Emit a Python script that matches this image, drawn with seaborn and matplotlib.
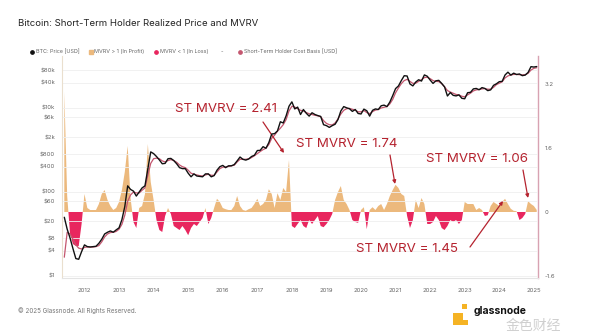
import numpy as np
import pandas as pd
import matplotlib
matplotlib.use("Agg")
import matplotlib.pyplot as plt
import seaborn as sns
from matplotlib.lines import Line2D
from matplotlib.patches import Rectangle

sns.set_style("white")
plt.rcParams['font.family'] = ['Inter', 'DejaVu Sans', 'Noto Sans CJK SC']

# ---------------- data (monthly, first of month) ----------------
months = pd.date_range("2011-06-01", "2025-02-01", freq="MS")

price = [
    25, 13, 8, 4.5, 2.6, 2.5, 3.8,                                        # 2011 Jun-Dec
    5.5, 5, 4.9, 5, 5.1, 6, 7.5, 10, 11, 11.8, 11, 12.5,                  # 2012
    14, 22, 45, 140, 115, 105, 80, 100, 125, 140, 350, 900,               # 2013
    820, 700, 580, 470, 480, 620, 630, 560, 470, 380, 360, 360,           # 2014
    280, 230, 270, 240, 235, 230, 270, 270, 230, 245, 330, 400,           # 2015
    430, 380, 420, 420, 450, 550, 680, 600, 575, 610, 700, 750,           # 2016
    970, 980, 1200, 1100, 1500, 2400, 2450, 2850, 4700, 4400, 6500, 11000,  # 2017
    14000, 9500, 10500, 7000, 9200, 7500, 6400, 7700, 7000, 6600, 6300, 4000,  # 2018
    3800, 3450, 3800, 4100, 5300, 8500, 10800, 10100, 9600, 8300, 9200, 7400,  # 2019
    7200, 9400, 8600, 6400, 8800, 9500, 9200, 11300, 11700, 10800, 13800, 19700,  # 2020
    29000, 33500, 45000, 58700, 57800, 37300, 33600, 41500, 47100, 43800, 61300, 57000,  # 2021
    46300, 38500, 44400, 45500, 38500, 31800, 19300, 23300, 20000, 19400, 20500, 17000,  # 2022
    16600, 23100, 23600, 28500, 29200, 27200, 30600, 29200, 25900, 27000, 34600, 37700,  # 2023
    42300, 43100, 61100, 71300, 60600, 67500, 62700, 64600, 58900, 60800, 70200, 96400,  # 2024
    94400, 97000,                                                          # 2025
]

sth_cost_basis = [
    2.8, 11, 10, 7.5, 5.5, 4.6, 4.4,
    4.8, 4.9, 4.9, 4.9, 5.0, 5.3, 6.5, 8.5, 10, 10.8, 11, 11.5,
    13, 17, 28, 60, 85, 100, 95, 95, 110, 125, 250, 480,
    620, 640, 620, 550, 520, 560, 590, 560, 510, 440, 400, 380,
    330, 280, 265, 255, 245, 240, 255, 265, 250, 250, 300, 360,
    390, 395, 405, 420, 435, 520, 600, 600, 600, 615, 660, 730,
    820, 920, 1020, 1100, 1350, 1900, 2250, 2800, 3300, 4000, 5300, 8500,
    11000, 10500, 9600, 8800, 8500, 7800, 7300, 7000, 6700, 6500, 6200, 5000,
    4300, 4000, 3950, 4400, 5500, 7200, 8800, 9600, 9800, 9300, 8900, 8100,
    8100, 8700, 7800, 7300, 8200, 8900, 9200, 10000, 10400, 10800, 12500, 16000,
    23000, 30000, 38000, 45000, 48000, 43000, 38500, 39000, 43000, 47000, 53000, 54000,
    50000, 45000, 43000, 42500, 38000, 32000, 26000, 24000, 22500, 21000, 20500, 19000,
    18500, 20500, 22500, 25500, 27000, 27500, 28500, 29000, 28000, 28000, 31000, 36000,
    39000, 42000, 52000, 58000, 61000, 63000, 63000, 62000, 61500, 62000, 67000, 80000,
    88000, 91000,
]

mvrv_minus_1 = [
    3.0, 0.4, -0.55, -0.8, -0.85, -0.85, -0.3,
    0.45, 0.1, 0.05, 0.05, 0.05, 0.2, 0.45, 0.55, 0.3, 0.15, 0.05, 0.1,
    0.25, 0.55, 1.0, 1.65, 0.35, -0.25, -0.4, 0.1, 0.15, 0.45, 1.7, 0.75,
    0.3, -0.2, -0.45, -0.5, -0.1, 0.1, -0.05, -0.35, -0.4, -0.45, -0.35, -0.45,
    -0.58, -0.4, -0.3, -0.35, -0.25, -0.15, 0.1, -0.3, -0.15, 0.1, 0.33, 0.25,
    0.1, 0.07, 0.05, 0.05, 0.15, 0.4, 0.15, 0.05, 0.03, 0.07, 0.1, 0.2,
    0.33, 0.15, 0.2, 0.3, 0.57, 0.45, 0.1, 0.47, 0.3, 0.6, 0.5, 1.3,
    -0.35, -0.4, -0.3, -0.2, -0.35, -0.4, -0.2, -0.3, -0.2, -0.1, -0.35, -0.38,
    -0.3, -0.2, -0.05, 0.3, 0.5, 0.65, 0.3, 0.2, 0.05, -0.2, -0.25, -0.27,
    0.05, 0.12, -0.43, 0.05, 0.12, 0.05, 0.15, 0.2, 0.05, 0.2, 0.4, 0.55,
    0.68, 0.6, 0.45, 0.4, -0.1, -0.4, -0.2, 0.3, 0.1, 0.35, 0.2, -0.3,
    -0.3, -0.25, -0.1, -0.2, -0.4, -0.45, -0.35, -0.2, -0.25, -0.2, -0.3, -0.2,
    0.25, 0.2, 0.2, 0.2, 0.05, 0.1, 0.05, -0.1, -0.08, 0.15, 0.25, 0.2,
    0.15, 0.25, 0.33, 0.2, 0.08, 0.03, 0.02, -0.2, -0.15, -0.05, 0.27, 0.2,
    0.15, 0.05,
]

year_ticks = list(range(2012, 2026))
price_ticks = [1, 4, 8, 20, 60, 100, 400, 800, 2000, 6000, 10000, 40000, 80000]
price_tick_labels = ["$1", "$4", "$8", "$20", "$60", "$100", "$400", "$800",
                     "$2k", "$6k", "$10k", "$40k", "$80k"]
mvrv_ticks = [-1.6, 0, 1.6, 3.2]

t = months.year + (months.month - 1) / 12.0
df = pd.DataFrame({"t": t, "price": price, "sth": sth_cost_basis, "mvrv": mvrv_minus_1})

# ---------------- styling ----------------
C_PRICE = "#111111"
C_STH = "#c4566f"
C_PROFIT = "#ecb97d"
C_LOSS = "#e8265e"
C_ANN = "#b5232f"
C_TXT = "#666666"

fig = plt.figure(figsize=(6, 3.36), dpi=100)
ax = fig.add_axes([62 / 600, 1 - 278 / 336, 476 / 600, 222 / 336])
ax2 = ax.twinx()
ax.set_zorder(ax2.get_zorder() + 1)
ax.patch.set_visible(False)

# MVRV areas (right axis)
x = df["t"].values
m = df["mvrv"].values
ax2.fill_between(x, m, 0, where=m >= 0, interpolate=True, color=C_PROFIT, lw=0)
ax2.fill_between(x, m, 0, where=m <= 0, interpolate=True, color=C_LOSS, lw=0)
ax2.set_ylim(-1.65, 3.9)
ax2.set_yticks(mvrv_ticks)
ax2.set_yticklabels(["-1.6", "0", "1.6", "3.2"])
ax2.tick_params(axis="y", length=0, pad=5, labelsize=4.3, labelcolor=C_TXT)

# price lines (left axis, log)
sns.lineplot(data=df, x="t", y="sth", ax=ax, color=C_STH, lw=0.9, zorder=3)
sns.lineplot(data=df, x="t", y="price", ax=ax, color=C_PRICE, lw=1.0, zorder=4)
ax.set_yscale("log")
ax.set_ylim(10 ** -0.048, 10 ** 5.238)
ax.set_xlim(2011.35, 2025.12)
ax.set_yticks(price_ticks)
ax.set_yticklabels(price_tick_labels)
ax.minorticks_off()
ax.set_xticks(year_ticks)
ax.set_xticklabels([str(y) for y in year_ticks])
ax.set_xlabel("")
ax.set_ylabel("")
ax.tick_params(axis="y", length=0, pad=5, labelsize=4.3, labelcolor=C_TXT)
ax.tick_params(axis="x", length=0, pad=7, labelsize=4.3, labelcolor=C_TXT)
ax.grid(axis="y", color="#efefef", lw=0.6)
ax.set_axisbelow(True)

for a in (ax, ax2):
    a.spines["top"].set_visible(False)
ax.spines["right"].set_visible(False)
ax2.spines["left"].set_visible(False)
ax2.spines["bottom"].set_visible(False)
ax.spines["left"].set_color("#eadfce")
ax.spines["left"].set_linewidth(0.8)
ax.spines["bottom"].set_color("#e4e4e4")
ax.spines["bottom"].set_linewidth(0.8)
ax2.spines["right"].set_color("#d8a2b2")
ax2.spines["right"].set_linewidth(1.0)

# ---------------- title & legend ----------------
fig.text(18 / 600, 1 - 24 / 336, "Bitcoin: Short-Term Holder Realized Price and MVRV",
         fontsize=6.9, color="#222222", va="center", ha="left")

ly = 1 - 52 / 336
legend_items = [
    (32, "o", C_PRICE, "BTC: Price [USD]"),
    (91, "s", C_PROFIT, "MVRV > 1 (In Profit)"),
    (156, "o", C_LOSS, "MVRV < 1 (In Loss)"),
    (240, "o", C_STH, "Short-Term Holder Cost Basis [USD]"),
]
for px, mk, col, lab in legend_items:
    fig.add_artist(Line2D([px / 600], [ly], marker=mk, markersize=2.4, color=col,
                          ls="", transform=fig.transFigure))
    fig.text((px + 3.5) / 600, ly, lab, fontsize=3.9, color=C_TXT, va="center", ha="left")
fig.text(222 / 600, ly, "-", fontsize=3.9, color=C_TXT, va="center", ha="center")

# ---------------- annotations ----------------
def fp(xp, yp):
    return (xp, 336 - yp)

ann = [
    ("ST MVRV = 2.41", (226, 109), (263, 122), (284, 153)),
    ("ST MVRV = 1.74", (347, 144), (390, 155), (395, 184)),
    ("ST MVRV = 1.06", (477, 159), (523, 170), (528, 198)),
    ("ST MVRV = 1.45", (407, 249), (470, 247), (503, 201)),
]
for txt, c, a0, a1 in ann:
    fig.text(c[0] / 600, 1 - c[1] / 336, txt, fontsize=9.6, color=C_ANN,
             ha="center", va="center")
    ax.annotate("", xy=fp(*a1), xytext=fp(*a0), xycoords="figure pixels",
                textcoords="figure pixels",
                arrowprops=dict(arrowstyle="-|>", color=C_ANN, lw=0.9,
                                mutation_scale=5, shrinkA=0, shrinkB=0))

# ---------------- footer ----------------
fig.text(18 / 600, 1 - 311 / 336, "© 2025 Glassnode. All Rights Reserved.",
         fontsize=4.5, color="#777777", va="center", ha="left")
fig.add_artist(Rectangle((453 / 600, 1 - 325 / 336), 10 / 600, 12 / 336,
                         transform=fig.transFigure, color="#f5b324", lw=0))
fig.add_artist(Rectangle((463 / 600, 1 - 325 / 336), 5 / 600, 5 / 336,
                         transform=fig.transFigure, color="#f5b324", lw=0))
fig.add_artist(Rectangle((462 / 600, 1 - 309 / 336), 5 / 600, 5 / 336,
                         transform=fig.transFigure, color="#f5b324", lw=0))
fig.text(474 / 600, 1 - 311 / 336, "glassnode", fontsize=7.5, fontweight="bold",
         color="#111111", va="center", ha="left")
fig.text(533 / 600, 1 - 326 / 336, "金色财经", fontsize=10,
         family=["Noto Sans CJK SC", "DejaVu Sans"], color="#bbbbbb", alpha=0.7,
         va="center", ha="center")

fig.savefig("out.png", dpi=100)
